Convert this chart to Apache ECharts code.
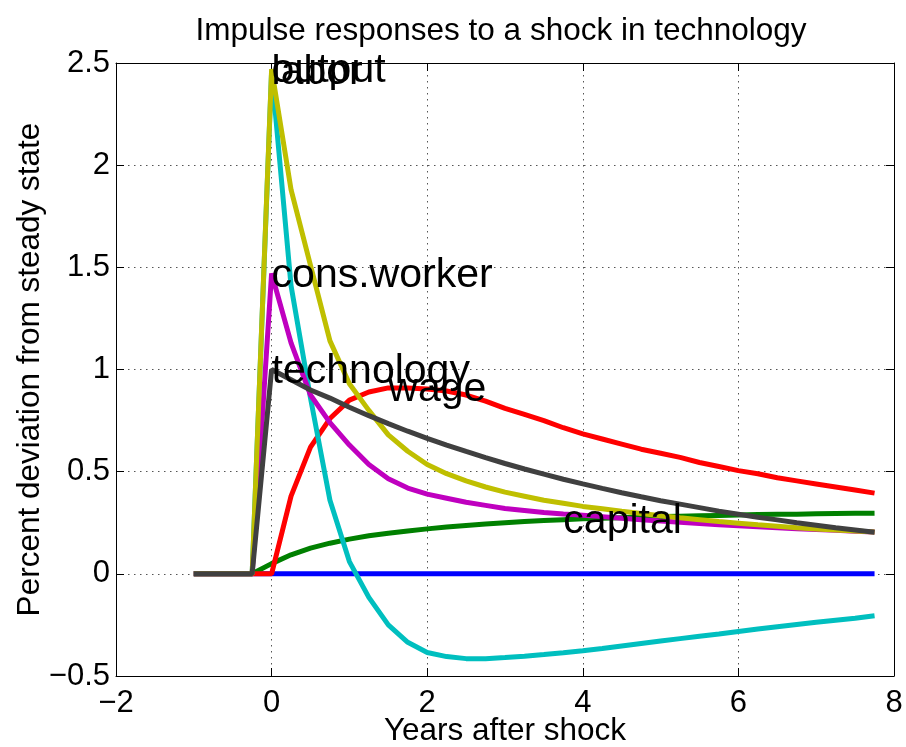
<!DOCTYPE html>
<html>
<head>
<meta charset="utf-8">
<script src="https://cdn.jsdelivr.net/npm/echarts@6.0.0/dist/echarts.min.js"></script>
<style>
  html, body { margin: 0; padding: 0; background: #fff; }
  #chart { width: 906px; height: 747px; }
</style>
</head>
<body>
<div id="chart"></div>
<script>
// quarters, in years after the shock
const years = [-1, -0.75, -0.5, -0.25, 0, 0.25, 0.5, 0.75, 1, 1.25, 1.5, 1.75,
  2, 2.25, 2.5, 2.75, 3, 3.25, 3.5, 3.75, 4, 4.25, 4.5, 4.75,
  5, 5.25, 5.5, 5.75, 6, 6.25, 6.5, 6.75, 7, 7.25, 7.5, 7.75];

const zeroLine = [0, 0, 0, 0, 0, 0, 0, 0, 0, 0, 0, 0,
  0, 0, 0, 0, 0, 0, 0, 0, 0, 0, 0, 0,
  0, 0, 0, 0, 0, 0, 0, 0, 0, 0, 0, 0];
const capital = [0, 0, 0, 0, 0.05, 0.093, 0.126, 0.15, 0.17, 0.186, 0.199, 0.21,
  0.22, 0.229, 0.237, 0.244, 0.25, 0.256, 0.261, 0.265, 0.269, 0.272, 0.275, 0.278,
  0.28, 0.282, 0.284, 0.286, 0.288, 0.29, 0.291, 0.292, 0.294, 0.295, 0.296, 0.297];
const wage = [0, 0, 0, 0, 0, 0.38, 0.62, 0.76, 0.85, 0.89, 0.91, 0.91,
  0.905, 0.895, 0.875, 0.845, 0.81, 0.78, 0.75, 0.715, 0.685, 0.66, 0.635, 0.61,
  0.59, 0.57, 0.545, 0.525, 0.505, 0.49, 0.47, 0.455, 0.44, 0.425, 0.41, 0.395];
const labor = [0, 0, 0, 0, 2.46, 1.41, 0.86, 0.36, 0.06, -0.115, -0.25, -0.335,
  -0.385, -0.405, -0.415, -0.415, -0.41, -0.403, -0.395, -0.386, -0.376, -0.365, -0.353, -0.341,
  -0.329, -0.317, -0.305, -0.294, -0.282, -0.27, -0.259, -0.248, -0.237, -0.227, -0.217, -0.205];
const consWorker = [0, 0, 0, 0, 1.47, 1.13, 0.875, 0.74, 0.63, 0.535, 0.465, 0.42,
  0.39, 0.37, 0.35, 0.335, 0.32, 0.31, 0.30, 0.293, 0.287, 0.28, 0.272, 0.265,
  0.258, 0.252, 0.246, 0.24, 0.235, 0.23, 0.225, 0.221, 0.217, 0.213, 0.209, 0.205];
const output = [0, 0, 0, 0, 2.47, 1.88, 1.51, 1.14, 0.93, 0.80, 0.68, 0.60,
  0.535, 0.49, 0.455, 0.425, 0.40, 0.38, 0.36, 0.345, 0.33, 0.318, 0.306, 0.295,
  0.284, 0.274, 0.265, 0.256, 0.248, 0.24, 0.233, 0.226, 0.22, 0.215, 0.21, 0.205];
const technology = [0, 0, 0, 0, 1, 0.95, 0.90, 0.86, 0.815, 0.774, 0.735, 0.698,
  0.663, 0.63, 0.599, 0.569, 0.54, 0.513, 0.488, 0.463, 0.44, 0.418, 0.397, 0.377,
  0.358, 0.341, 0.324, 0.307, 0.292, 0.277, 0.264, 0.25, 0.238, 0.226, 0.215, 0.204];

const xTicks = [-2, 0, 2, 4, 6, 8];
const yTicks = [-0.5, 0, 0.5, 1, 1.5, 2, 2.5];

// draw order follows the matlab colour order
const lines = [
  { name: '', values: zeroLine, color: '#0000ff', labelAt: null },
  { name: 'capital', values: capital, color: '#008000', labelAt: 3.75 },
  { name: 'wage', values: wage, color: '#ff0000', labelAt: 1.5 },
  { name: 'labor', values: labor, color: '#00bfbf', labelAt: 0 },
  { name: 'cons.worker', values: consWorker, color: '#bf00bf', labelAt: 0 },
  { name: 'output', values: output, color: '#bfbf00', labelAt: 0 },
  { name: 'technology', values: technology, color: '#404040', labelAt: 0 },
];

const FONT = 'Liberation Sans, Arial, sans-serif';
const fmt = (v) => String(v).replace('-', '\u2212');

let chart = echarts.init(document.getElementById('chart'));

let axisCommon = {
  type: 'value',
  axisLine: { show: true, onZero: false, lineStyle: { color: '#000', width: 1 } },
  axisTick: { show: true, inside: true, length: 8, lineStyle: { color: '#000' } },
};

let option = {
  animation: false,
  backgroundColor: '#fff',
  title: {
    text: 'Impulse responses to a shock in technology',
    left: 496,
    top: 10,
    textAlign: 'center',
    textStyle: { fontFamily: FONT, fontSize: 31.5, fontWeight: 'normal', color: '#000' },
  },
  grid: { left: 116, right: 12, top: 63, bottom: 71, outerBoundsMode: 'none' },
  xAxis: [
    {
      ...axisCommon,
      min: xTicks[0], max: xTicks[xTicks.length - 1], interval: 2,
      name: 'Years after shock',
      nameLocation: 'middle',
      nameGap: 39,
      nameMoveOverlap: false,
      nameTextStyle: { fontFamily: FONT, fontSize: 31.5, color: '#000' },
      axisLabel: { fontFamily: FONT, fontSize: 31, color: '#000', margin: 12, formatter: fmt },
      splitLine: { show: true, lineStyle: { color: '#555', width: 1, type: [1.5, 4.5] } },
    },
    {
      ...axisCommon,
      position: 'top',
      min: xTicks[0], max: xTicks[xTicks.length - 1], interval: 2,
      axisLabel: { show: false },
      splitLine: { show: false },
    },
  ],
  yAxis: [
    {
      ...axisCommon,
      min: yTicks[0], max: yTicks[yTicks.length - 1], interval: 0.5,
      name: 'Percent deviation from steady state',
      nameLocation: 'middle',
      nameGap: 70,
      nameMoveOverlap: false,
      nameTextStyle: { fontFamily: FONT, fontSize: 31.5, color: '#000' },
      axisLabel: { fontFamily: FONT, fontSize: 31, color: '#000', margin: 6, formatter: fmt },
      splitLine: { show: true, lineStyle: { color: '#555', width: 1, type: [1.5, 4.5] } },
    },
    {
      ...axisCommon,
      position: 'right',
      min: yTicks[0], max: yTicks[yTicks.length - 1], interval: 0.5,
      axisLabel: { show: false },
      splitLine: { show: false },
    },
  ],
  series: lines.map((s) => {
    let ser = {
      type: 'line',
      name: s.name,
      data: years.map((x, i) => [x, s.values[i]]),
      showSymbol: false,
      symbol: 'none',
      lineStyle: { color: s.color, width: 5 },
      itemStyle: { color: s.color },
      silent: true,
    };
    if (s.labelAt !== null) {
      let idx = years.indexOf(s.labelAt);
      ser.markPoint = {
        symbol: 'circle',
        symbolSize: 0,
        silent: true,
        label: {
          show: true,
          position: 'right',
          distance: 0,
          offset: [0, 2],
          formatter: s.name,
          fontFamily: FONT,
          fontSize: 41,
          color: '#000',
        },
        data: [{ coord: [years[idx], s.values[idx]], name: s.name }],
      };
    }
    return ser;
  }),
};

chart.setOption(option);
</script>
</body>
</html>
